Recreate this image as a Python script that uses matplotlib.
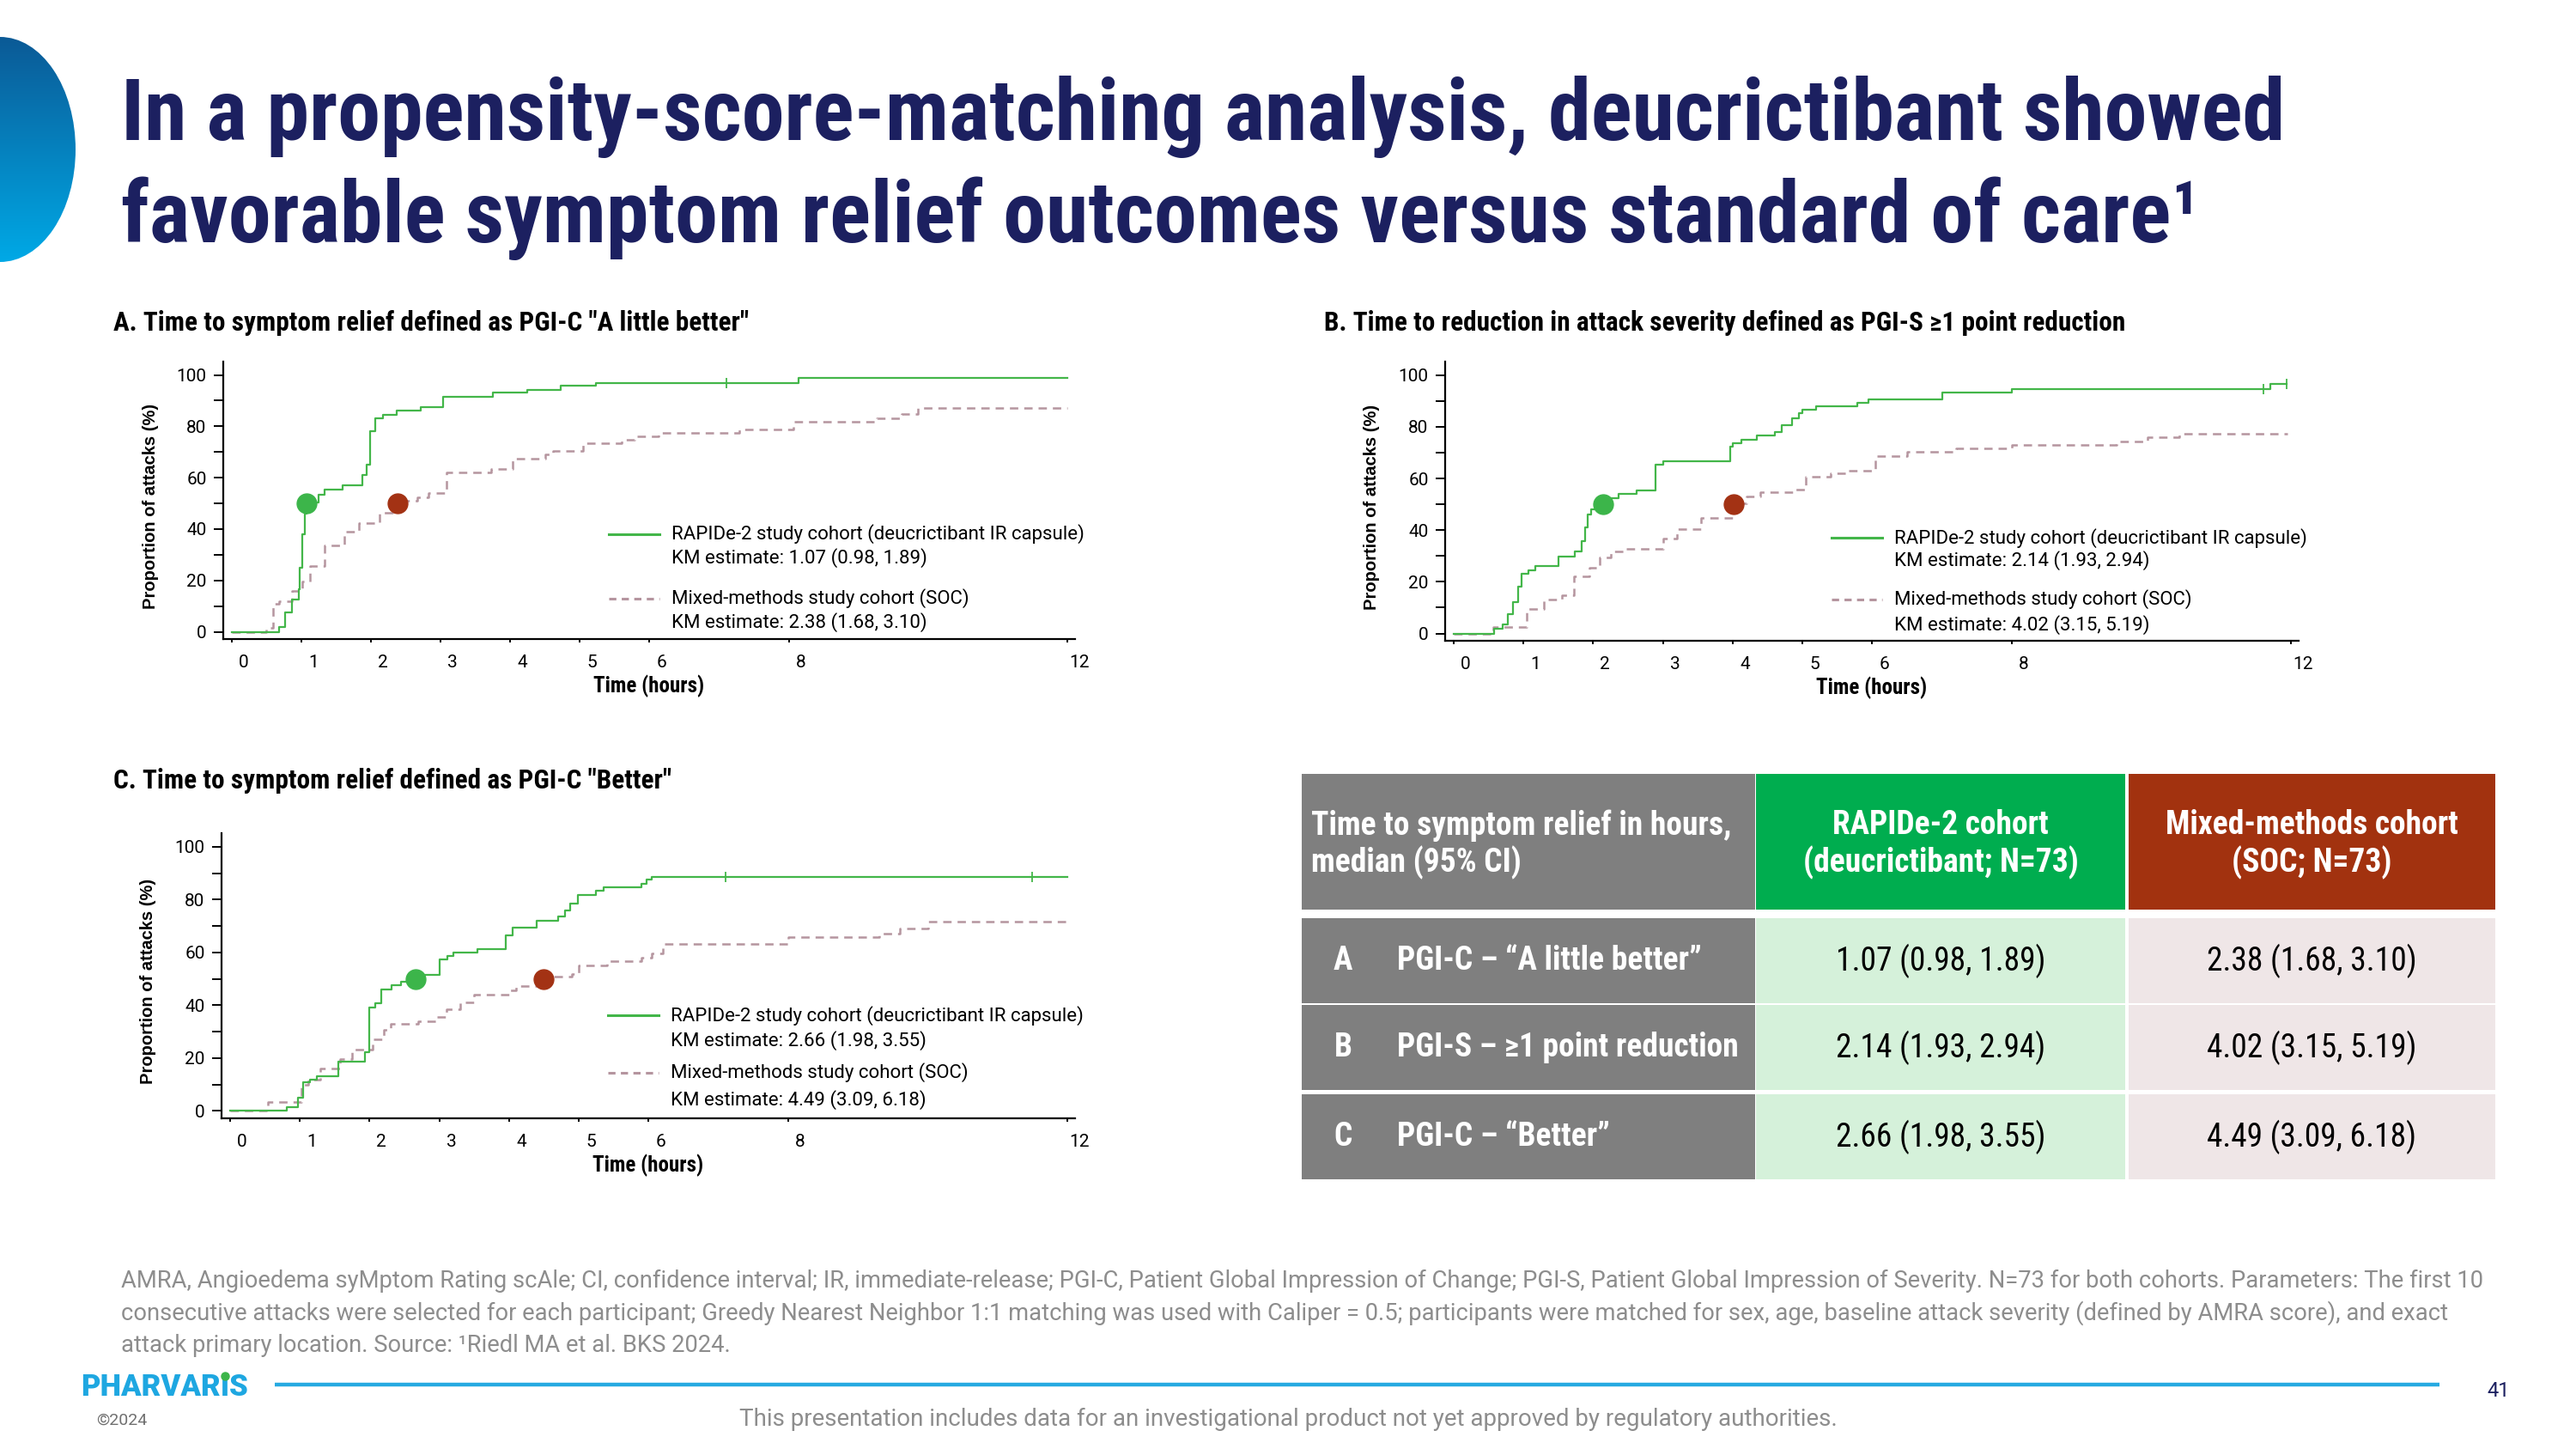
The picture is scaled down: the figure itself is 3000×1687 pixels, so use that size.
import matplotlib
matplotlib.use('Agg')
import matplotlib.pyplot as plt
import matplotlib.transforms as mtrans
from matplotlib import font_manager
from matplotlib.patches import Rectangle, Ellipse
from matplotlib.colors import LinearSegmentedColormap
import numpy as np

_names = {f.name for f in font_manager.fontManager.ttflist}
COND = next((n for n in ['Roboto Condensed', 'Liberation Sans Narrow', 'Roboto'] if n in _names), 'DejaVu Sans')
REG = 'Roboto' if 'Roboto' in _names else 'DejaVu Sans'

plt.rcParams['font.family'] = [REG, 'DejaVu Sans']
plt.rcParams['lines.scale_dashes'] = False

# ---------------- data ----------------
hour_ticks = [0, 1, 2, 3, 4, 5, 6, 8, 12]
pct_major = [0, 20, 40, 60, 80, 100]
pct_minor = [10, 30, 50, 70, 90]

# A: PGI-C "A little better"
a_rap_t = [0, 0.68, 0.77, 0.87, 0.96, 0.98, 1.02, 1.05, 1.08, 1.25, 1.34, 1.59, 1.88, 1.94,
           1.99, 2.06, 2.17, 2.37, 2.72, 3.04, 3.75, 4.25, 4.73, 5.23, 8.14, 12.0]
a_rap_y = [0, 2, 7.5, 12.5, 16.5, 25, 38, 46, 50.5, 53.5, 55.5, 57, 61, 65,
           78, 83, 84.5, 86, 87.5, 91.5, 93, 94.2, 95.8, 97, 99, 99]
a_mix_t = [0, 0.50, 0.59, 0.68, 0.87, 1.02, 1.13, 1.33, 1.62, 1.83, 2.12, 2.31, 2.67, 2.83,
           3.08, 3.73, 4.03, 4.50, 4.62, 5.05, 5.60, 5.78, 6.13, 7.29, 8.07, 9.26, 9.62, 9.85, 12.0]
a_mix_y = [0, 1.5, 11, 12, 16, 19.5, 25.5, 33.5, 39, 42.5, 46.5, 51, 52.5, 54,
           62, 63.3, 67.5, 69, 70.5, 73.3, 74.8, 76, 77.5, 78.7, 81.7, 83, 84.8, 87.2, 87.2]
a_rap_cens = [7.1]

# B: PGI-S >=1 point reduction
b_rap_t = [0, 0.58, 0.70, 0.78, 0.85, 0.92, 0.98, 1.07, 1.17, 1.50, 1.74, 1.84, 1.88, 1.92,
           1.97, 2.14, 2.20, 2.36, 2.62, 2.90, 3.00, 3.96, 4.00, 4.12, 4.35, 4.60, 4.70, 4.85,
           4.95, 5.00, 5.20, 5.78, 5.95, 7.00, 8.00, 11.70, 11.94]
b_rap_y = [0, 2, 3.5, 7.5, 12, 18, 23, 24.6, 26, 29.8, 31.7, 35.6, 41, 46,
           48, 50.7, 52.3, 54.1, 55.5, 65.2, 66.6, 72.4, 73.7, 75.1, 76.6, 77.9, 80.7, 83.4,
           85.1, 86.7, 87.8, 89.2, 90.6, 93.4, 94.7, 96.7, 96.7]
b_mix_t = [0, 0.57, 1.05, 1.30, 1.55, 1.73, 1.95, 2.10, 2.25, 2.45, 3.00, 3.20, 3.55, 4.02,
           4.20, 4.40, 4.90, 5.05, 5.40, 5.65, 6.05, 6.50, 7.20, 8.00, 9.50, 9.95, 10.40, 11.95]
b_mix_y = [0, 2.5, 9.5, 13.3, 14.9, 22, 25.4, 29.3, 31.9, 32.6, 36.8, 40.5, 44.8, 50.5,
           53, 54.7, 55.8, 60.8, 61.9, 63, 68.7, 70.2, 71.5, 72.9, 74.3, 75.9, 77.3, 77.3]
b_rap_cens = [11.6, 11.94]

# C: PGI-C "Better"
c_rap_t = [0, 0.82, 0.98, 1.05, 1.15, 1.25, 1.55, 1.93, 2.00, 2.08, 2.17, 2.32, 2.45, 2.70,
           3.00, 3.12, 3.20, 3.55, 3.95, 4.05, 4.40, 4.70, 4.80, 4.88, 4.98, 5.25, 5.35, 5.90,
           5.97, 6.05, 12.0]
c_rap_y = [0, 1.5, 4.9, 10.8, 11.9, 13.2, 18.7, 22.2, 39.3, 40.7, 46.1, 47.7, 49, 51.5,
           57.3, 58.6, 59.9, 61.2, 66.5, 69.4, 72.1, 73.5, 75.9, 78.6, 81.7, 83.3, 84.6, 86,
           87.5, 88.6, 88.6]
c_mix_t = [0, 0.55, 1.03, 1.12, 1.30, 1.58, 1.75, 2.05, 2.20, 2.30, 2.70, 2.95, 3.10, 3.30,
           3.50, 4.00, 4.10, 4.45, 4.55, 4.90, 5.00, 5.40, 5.90, 6.05, 6.20, 8.00, 9.30, 9.60,
           10.00, 12.0]
c_mix_y = [0, 3.3, 9.8, 12, 16, 19.5, 23.1, 27.1, 30.6, 32.9, 33.8, 35.6, 38.5, 41,
           44.1, 45.6, 47.2, 48.6, 50.8, 52, 55, 56.6, 58, 59.6, 63.2, 65.9, 67.2, 69,
           71.8, 71.8]
c_rap_cens = [7.1, 11.5]

median_rap = [1.07, 2.14, 2.66]
median_mix = [2.38, 4.02, 4.49]
km_rap = ['1.07 (0.98, 1.89)', '2.14 (1.93, 2.94)', '2.66 (1.98, 3.55)']
km_mix = ['2.38 (1.68, 3.10)', '4.02 (3.15, 5.19)', '4.49 (3.09, 6.18)']

panel_titles = ['A. Time to symptom relief defined as PGI-C "A little better"',
                'B. Time to reduction in attack severity defined as PGI-S \u22651 point reduction',
                'C. Time to symptom relief defined as PGI-C "Better"']
rap_label = 'RAPIDe-2 study cohort (deucrictibant IR capsule)'
mix_label = 'Mixed-methods study cohort (SOC)'

row_letters = ['A', 'B', 'C']
row_names = ['PGI-C \u2013 \u201cA little better\u201d',
             'PGI-S \u2013 \u22651 point reduction',
             'PGI-C \u2013 \u201cBetter\u201d']
col_headers = ['Time to symptom relief in hours,\nmedian (95% CI)',
               'RAPIDe-2 cohort\n(deucrictibant; N=73)',
               'Mixed-methods cohort\n(SOC; N=73)']

title_lines = ['In a propensity-score-matching analysis, deucrictibant showed',
               'favorable symptom relief outcomes versus standard of care\u00b9']
footnote_lines = [
    'AMRA, Angioedema syMptom Rating scAle; CI, confidence interval; IR, immediate-release; PGI-C, Patient Global Impression of Change; PGI-S, Patient Global Impression of Severity. N=73 for both cohorts. Parameters: The first 10',
    'consecutive attacks were selected for each participant; Greedy Nearest Neighbor 1:1 matching was used with Caliper = 0.5; participants were matched for sex, age, baseline attack severity (defined by AMRA score), and exact',
    'attack primary location. Source: \u00b9Riedl MA et al. BKS 2024.']
disclaimer = 'This presentation includes data for an investigational product not yet approved by regulatory authorities.'

# ---------------- colours ----------------
NAVY = '#1c2060'
GREEN = '#43b649'
MAUVE = '#b5959f'
DOT_G = '#3cb54a'
DOT_R = '#a33214'
GREY_CELL = '#7f7f7f'
HEAD_G = '#00ad4f'
HEAD_R = '#a2320f'
BODY_G = '#d5f1da'
BODY_R = '#efe6e7'

W, H = 3000, 1687
fig = plt.figure(figsize=(W / 100, H / 100), dpi=100)

bg = fig.add_axes([0, 0, 1, 1])
bg.set_xlim(0, W)
bg.set_ylim(H, 0)
bg.axis('off')

# blue arc top-left
grad = np.linspace(0, 1, 256).reshape(-1, 1)
cmap = LinearSegmentedColormap.from_list('arc', ['#0b5a96', '#00a9e6'])
im = bg.imshow(grad, extent=[0, 90, 305, 43], cmap=cmap, aspect='auto', zorder=1)
ell = Ellipse((0, 174), 176, 262, facecolor='none', edgecolor='none')
bg.add_patch(ell)
im.set_clip_path(ell)
bg.set_xlim(0, W)
bg.set_ylim(H, 0)

# title
for i, line in enumerate(title_lines):
    bg.text(141, 163 + i * 119, line, fontsize=72, fontweight='bold', family=[COND, 'DejaVu Sans'],
            color=NAVY, va='baseline', ha='left')

# panel titles
for txt, (x, y) in zip(panel_titles, [(132, 376), (1542, 376), (132, 909)]):
    bg.text(x, y, txt, fontsize=22.5, fontweight='bold', family=[COND, 'DejaVu Sans'],
            color='black', va='center', ha='left')


def step_val(t, y, tc):
    idx = np.searchsorted(t, tc, side='right') - 1
    return y[idx]


def draw_panel(rect, rt, ry, mt, my, med_r, med_m, cens, km_r, km_m, leg_y):
    ax = fig.add_axes(rect)
    ax.step(mt, my, where='post', color=MAUVE, lw=1.8, dashes=(7, 5), zorder=2)
    ax.step(rt, ry, where='post', color=GREEN, lw=1.6, zorder=3)
    cy = [step_val(rt, ry, c) for c in cens]
    ax.plot(cens, cy, ls='none', marker='|', ms=9, mew=1.3, color=GREEN, zorder=3)
    ax.plot([med_r], [50], 'o', ms=16.5, color=DOT_G, zorder=4)
    ax.plot([med_m], [50], 'o', ms=16.5, color=DOT_R, zorder=4)

    ax.set_xlim(-0.12, 12.11)
    ax.set_ylim(-2.8, 105.2)
    ax.set_xticks(hour_ticks)
    ax.set_xticklabels([str(h) for h in hour_ticks])
    ax.set_yticks(pct_major)
    ax.set_yticks(pct_minor, minor=True)
    for s in ['top', 'right']:
        ax.spines[s].set_visible(False)
    for s in ['left', 'bottom']:
        ax.spines[s].set_linewidth(1.6)
    ax.tick_params(axis='x', length=3, width=1.4, pad=10, labelsize=15)
    ax.tick_params(axis='y', which='both', length=8, width=1.4, pad=6, labelsize=15)
    off = mtrans.ScaledTranslation(0.14, 0, fig.dpi_scale_trans)
    for lbl in ax.get_xticklabels():
        lbl.set_transform(lbl.get_transform() + off)
    ax.set_xlabel('Time (hours)', fontsize=18, fontweight='bold',
                  family=[COND, 'DejaVu Sans'], labelpad=3)
    ax.set_ylabel('Proportion of attacks (%)', fontsize=14.5, fontweight='bold',
                  family=['Liberation Sans', 'DejaVu Sans'])
    ax.yaxis.set_label_coords(-0.076, 0.48)

    # legend drawn by hand
    ax.plot([0.453, 0.512], [leg_y[0], leg_y[0]], transform=ax.transAxes, color=GREEN,
            lw=2.2, clip_on=False)
    ax.plot([0.453, 0.512], [leg_y[2], leg_y[2]], transform=ax.transAxes, color=MAUVE,
            lw=2.2, dashes=(6, 4.5), clip_on=False)
    texts = [rap_label, 'KM estimate: ' + km_r, mix_label, 'KM estimate: ' + km_m]
    for t, y in zip(texts, leg_y):
        ax.text(0.526, y, t, transform=ax.transAxes, fontsize=16, va='center', ha='left')
    return ax


draw_panel([260 / W, 1 - 744 / H, 992 / W, 323 / H], a_rap_t, a_rap_y, a_mix_t, a_mix_y,
           median_rap[0], median_mix[0], a_rap_cens, km_rap[0], km_mix[0],
           [0.378, 0.291, 0.146, 0.059])
draw_panel([1683 / W, 1 - 746 / H, 994 / W, 325 / H], b_rap_t, b_rap_y, b_mix_t, b_mix_y,
           median_rap[1], median_mix[1], b_rap_cens, km_rap[1], km_mix[1],
           [0.369, 0.289, 0.148, 0.058])
draw_panel([258 / W, 1 - 1302 / H, 994 / W, 332 / H], c_rap_t, c_rap_y, c_mix_t, c_mix_y,
           median_rap[2], median_mix[2], c_rap_cens, km_rap[2], km_mix[2],
           [0.361, 0.274, 0.160, 0.066])

# ---------------- table ----------------
col_x = [1516, 2045, 2479]
col_w = [528, 430, 427]
head_y, head_h = 901, 158
row_y = [1069, 1170, 1274]
row_h = 99
TFS = 27

for x, w, c in zip(col_x, col_w, [GREY_CELL, HEAD_G, HEAD_R]):
    bg.add_patch(Rectangle((x, head_y), w, head_h, facecolor=c, edgecolor='none', zorder=1))
bg.text(col_x[0] + 11, head_y + head_h / 2 + 3, col_headers[0], color='white', fontsize=TFS,
        fontweight='bold', family=[COND, 'DejaVu Sans'], ha='left', va='center', linespacing=1.15)
for j in (1, 2):
    bg.text(col_x[j] + col_w[j] / 2, head_y + head_h / 2 + 3, col_headers[j], color='white',
            fontsize=TFS, fontweight='bold', family=[COND, 'DejaVu Sans'], ha='center',
            va='center', linespacing=1.15, multialignment='center')

for i, ry in enumerate(row_y):
    for x, w, c in zip(col_x, col_w, [GREY_CELL, BODY_G, BODY_R]):
        bg.add_patch(Rectangle((x, ry), w, row_h, facecolor=c, edgecolor='none', zorder=1))
    cy = ry + row_h / 2
    bg.text(1564, cy, row_letters[i], color='white', fontsize=TFS, fontweight='bold',
            family=[COND, 'DejaVu Sans'], ha='center', va='center')
    bg.text(1627, cy, row_names[i], color='white', fontsize=TFS, fontweight='bold',
            family=[COND, 'DejaVu Sans'], ha='left', va='center')
    bg.text(col_x[1] + col_w[1] / 2, cy, km_rap[i], color='black', fontsize=TFS,
            family=[COND, 'DejaVu Sans'], ha='center', va='center')
    bg.text(col_x[2] + col_w[2] / 2, cy, km_mix[i], color='black', fontsize=TFS,
            family=[COND, 'DejaVu Sans'], ha='center', va='center')

# ---------------- footer ----------------
for i, line in enumerate(footnote_lines):
    bg.text(141, 1491 + i * 38, line, fontsize=19.7, color='#8d8d8d', ha='left', va='center')

bg.plot([320, 2841], [1612, 1612], color='#27aae1', lw=3.2, solid_capstyle='butt')
logo_kw = dict(fontsize=25, fontweight='heavy', color='#1ea7e1')
t1 = bg.text(94, 1625, 'PHARVAR', va='baseline', ha='left', **logo_kw)
t2 = bg.annotate('\u0131', xy=(1, 0), xycoords=t1, va='bottom', ha='left', **logo_kw)
t3 = bg.annotate('S', xy=(1, 0), xycoords=t2, va='bottom', ha='left', **logo_kw)
# green dot over the i, placed from the measured glyph box
rend = fig.canvas.get_renderer()
bb = t2.get_window_extent(rend)
xc_disp = (bb.x0 + bb.x1) / 2
xc = bg.transData.inverted().transform((xc_disp, 0))[0]
bg.plot([xc], [1602], 'o', ms=6.5, color='#3cb54a', zorder=5)
bg.text(112, 1654, '\u00a92024', fontsize=14, color='#707070', ha='left', va='center')
bg.text(1500, 1652, disclaimer, fontsize=20, color='#8d8d8d', ha='center', va='center')
bg.text(2910, 1620, '41', fontsize=17, color=NAVY, ha='center', va='center')

fig.savefig('out.png', dpi=100)
